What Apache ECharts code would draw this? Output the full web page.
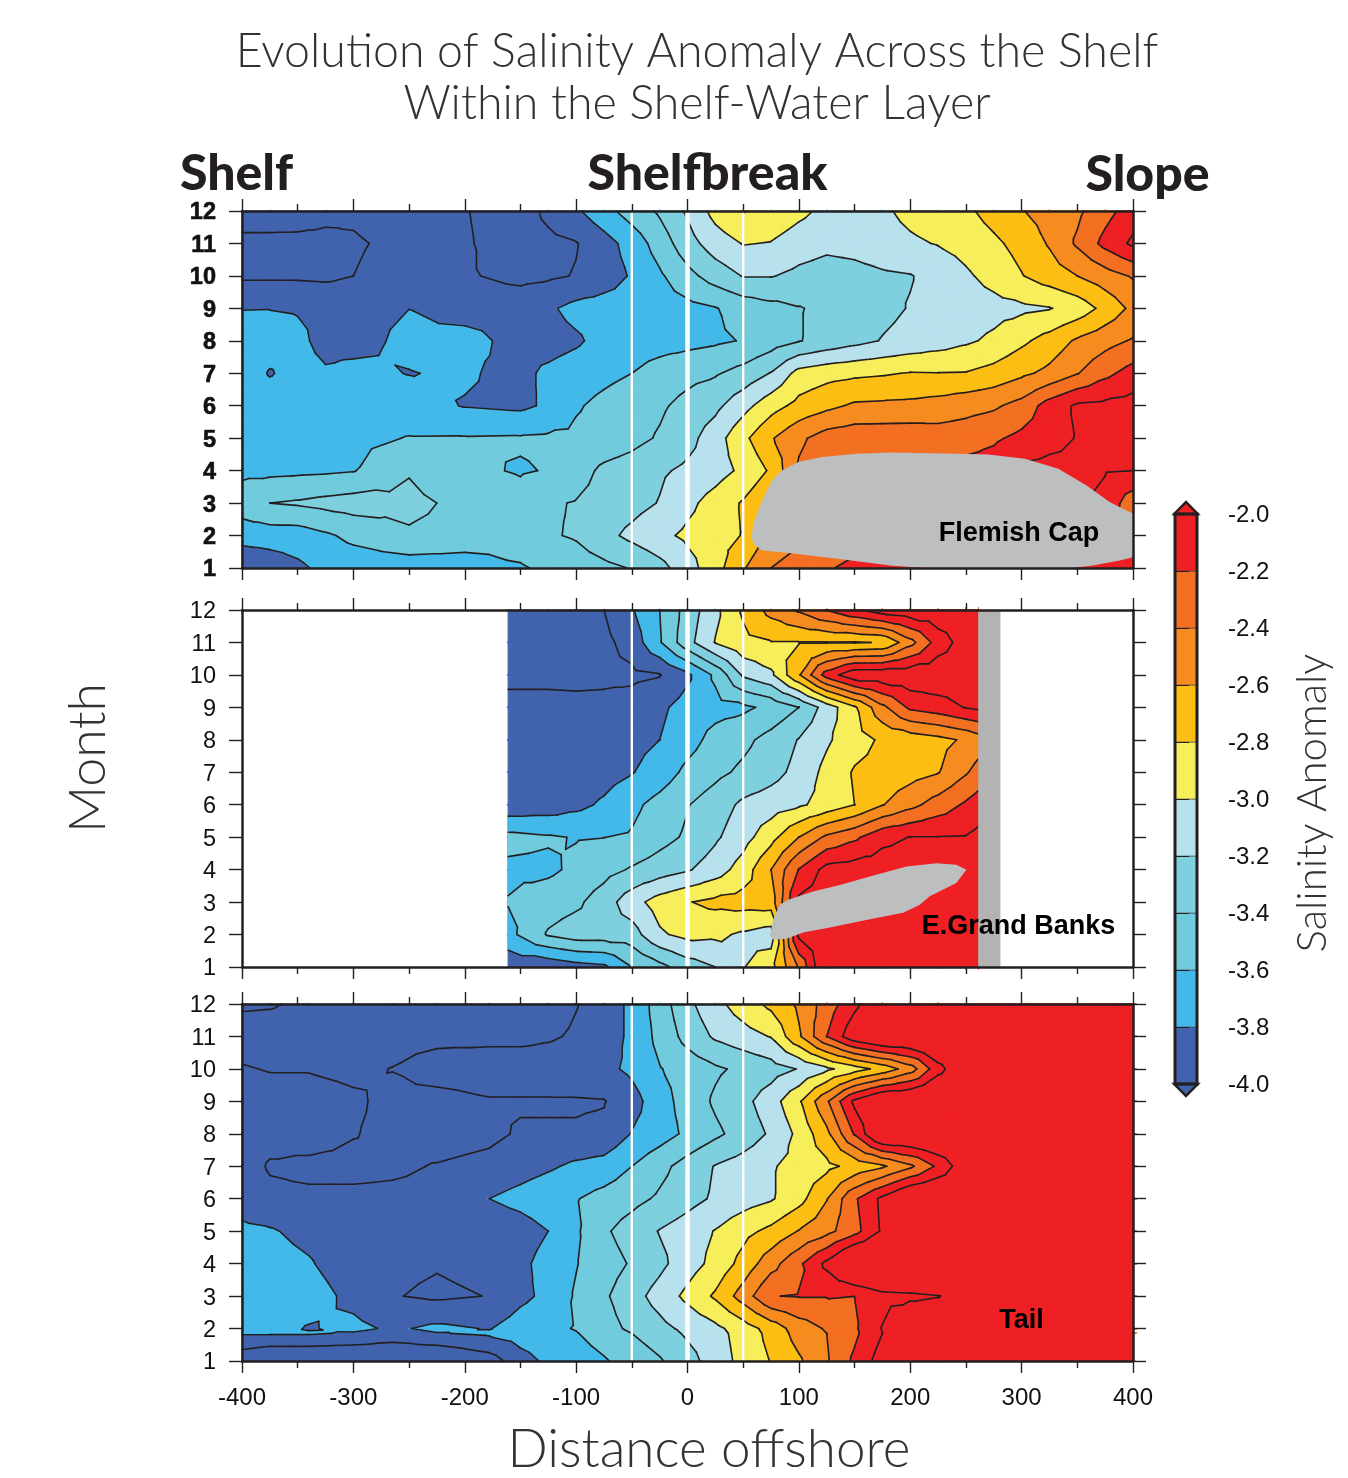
<!DOCTYPE html>
<html>
<head>
<meta charset="utf-8">
<style>html,body{margin:0;padding:0;background:#fff}#c{width:1348px;height:1478px}</style>
<script src="https://cdn.jsdelivr.net/npm/echarts@6/dist/echarts.min.js"></script>
</head>
<body>
<div id="c"></div>
<script>
// ---- contour levels and colours ----
const contourLevels = [-4.0,-3.8,-3.6,-3.4,-3.2,-3.0,-2.8,-2.6,-2.4,-2.2,-2.0];
const bandFloors    = [-99,-3.8,-3.6,-3.4,-3.2,-3.0,-2.8,-2.6,-2.4,-2.2];
const bandColors = ['#4163ae','#43b9ea','#70cbdc','#7fd0df','#b7e1ed','#f6ee5a','#fdbe14','#f68b1f','#f36f21','#ee2024'];
const monthTicks = [1,2,3,4,5,6,7,8,9,10,11,12];
const referenceLines = [-50,0,50];

// ---- panel 1: Flemish Cap ----
const p1Distance = [-400,-375,-350,-325,-300,-250,-200,-150,-125,-100,-75,-50,-25,0,25,50,75,100,125,150,175,200,225,250,275,300,325,350,375,400];
const p1Months = [1,2,3,4,5,6,7,8,9,10,11,12];
const p1M1  = [-3.98,-3.93,-3.84,-3.75,-3.72,-3.72,-3.72,-3.62,-3.56,-3.5,-3.45,-3.39,-3.27,-3.08,-2.88,-2.62,-2.4,-2.3,-2.22,-2.15,-2.1,-2.07,-2.05,-2.05,-2.05,-2.05,-2.1,-2.15,-2.15,-2.15];
const p1M2  = [-3.72,-3.7,-3.7,-3.63,-3.55,-3.424,-3.47,-3.5,-3.42,-3.38,-3.26,-3.15,-3.05,-2.96,-2.88,-2.79,-2.55,-2.45,-2.35,-2.3,-2.25,-2.2,-2.15,-2.1,-2.1,-2.1,-2.1,-2.15,-2.2,-2.3];
const p1M3  = [-3.49,-3.4,-3.376,-3.34,-3.31,-3.35,-3.45,-3.53,-3.42,-3.39,-3.33,-3.27,-3.19,-3.05,-2.92,-2.78,-2.6,-2.45,-2.3,-2.2,-2.15,-2.1,-2.1,-2.05,-2.0,-1.95,-1.93,-1.95,-2.05,-2.33];
const p1M4  = [-3.65,-3.65,-3.64,-3.63,-3.61,-3.415,-3.56,-3.616,-3.59,-3.48,-3.36,-3.31,-3.23,-3.16,-3.08,-2.96,-2.77,-2.37,-2.25,-2.22,-2.18,-2.15,-2.12,-2.12,-2.1,-1.96,-1.93,-1.95,-1.99,-2.0];
const p1M5  = [-3.7,-3.7,-3.69,-3.68,-3.66,-3.59,-3.587,-3.58,-3.57,-3.56,-3.52,-3.46,-3.38,-3.27,-3.09,-2.85,-2.62,-2.44,-2.31,-2.27,-2.27,-2.27,-2.3,-2.29,-2.23,-2.15,-2.07,-1.99,-1.95,-1.93];
const p1M6  = [-3.7,-3.72,-3.72,-3.72,-3.72,-3.72,-3.81,-3.84,-3.77,-3.62,-3.55,-3.49,-3.43,-3.34,-3.25,-3.07,-2.88,-2.74,-2.65,-2.57,-2.56,-2.55,-2.52,-2.47,-2.43,-2.33,-2.11,-1.97,-1.95,-1.92];
const p1M7  = [-3.72,-3.81,-3.75,-3.785,-3.76,-3.805,-3.78,-3.85,-3.76,-3.7,-3.65,-3.6,-3.52,-3.46,-3.42,-3.33,-3.19,-2.93,-2.87,-2.84,-2.82,-2.79,-2.795,-2.79,-2.73,-2.64,-2.55,-2.41,-2.25,-2.12];
const p1M8  = [-3.7,-3.74,-3.77,-3.84,-3.85,-3.765,-3.73,-3.87,-3.88,-3.83,-3.73,-3.7,-3.68,-3.66,-3.63,-3.59,-3.5,-3.41,-3.33,-3.26,-3.19,-3.14,-3.09,-3.03,-2.96,-2.84,-2.72,-2.57,-2.47,-2.38];
const p1M9  = [-3.805,-3.803,-3.81,-3.83,-3.85,-3.801,-3.88,-3.89,-3.83,-3.74,-3.71,-3.7,-3.69,-3.66,-3.61,-3.52,-3.46,-3.41,-3.36,-3.31,-3.25,-3.19,-3.15,-3.11,-3.07,-3.04,-3.01,-2.92,-2.74,-2.55];
const p1M10 = [-4.03,-4.03,-4.03,-4.04,-4.0,-3.92,-3.98,-4.05,-4.03,-3.99,-3.9,-3.78,-3.63,-3.46,-3.31,-3.19,-3.19,-3.25,-3.29,-3.27,-3.23,-3.21,-3.13,-3.03,-2.93,-2.81,-2.7,-2.6,-2.49,-2.38];
const p1M11 = [-4.05,-4.05,-4.05,-4.05,-4.02,-3.95,-3.98,-4.1,-4.05,-4.01,-3.88,-3.72,-3.51,-3.28,-3.1,-2.99,-3.01,-3.1,-3.15,-3.13,-3.08,-3.03,-2.99,-2.93,-2.84,-2.73,-2.58,-2.37,-2.14,-1.96];
const p1M12 = [-3.9,-3.9,-3.91,-3.95,-3.97,-3.9,-3.99,-4.1,-3.95,-3.83,-3.67,-3.51,-3.37,-3.17,-2.93,-2.79,-2.85,-2.95,-3.05,-3.1,-3.03,-2.95,-2.9,-2.84,-2.72,-2.61,-2.52,-2.44,-2.27,-2.1];

// ---- panel 2: E. Grand Banks ----
const p2Distance = [-161,-125,-100,-75,-50,-25,0,25,50,75,100,125,150,175,200,225,250,261];
const p2Months = [1,2,3,4,5,6,7,8,9,10,11,12];
const p2M1  = [-3.95,-3.95,-3.88,-3.84,-3.6,-3.46,-3.3,-3.2,-3.01,-2.87,-2.37,-1.75,-1.8,-1.8,-1.8,-1.8,-1.8,-1.8];
const p2M2  = [-3.66,-3.38,-3.3,-3.3,-3.29,-3.03,-2.94,-2.96,-3.03,-3.1,-1.95,-1.9,-1.9,-1.9,-1.9,-1.9,-1.9,-1.9];
const p2M3  = [-3.59,-3.49,-3.44,-3.3,-3.08,-2.91,-2.81,-2.75,-2.72,-2.7,-1.95,-1.9,-1.9,-1.9,-1.9,-1.9,-1.9,-1.9];
const p2M4  = [-3.64,-3.64,-3.557,-3.47,-3.38,-3.3,-3.22,-3.1,-2.91,-2.6,-2.19,-1.93,-1.9,-1.9,-1.9,-1.9,-1.9,-1.9];
const p2M5  = [-3.54,-3.58,-3.61,-3.602,-3.58,-3.47,-3.37,-3.23,-3.08,-2.87,-2.6,-2.36,-2.24,-2.05,-1.995,-1.995,-1.99,-1.95];
const p2M6  = [-3.94,-3.91,-3.85,-3.77,-3.65,-3.53,-3.41,-3.3,-3.16,-3.1,-3.03,-2.93,-2.8,-2.61,-2.46,-2.31,-2.17,-2.1];
const p2M7  = [-3.94,-3.94,-3.93,-3.88,-3.81,-3.71,-3.55,-3.45,-3.36,-3.27,-3.14,-2.94,-2.78,-2.74,-2.68,-2.61,-2.42,-2.33];
const p2M8  = [-3.94,-3.95,-3.95,-3.93,-3.86,-3.8,-3.68,-3.53,-3.45,-3.33,-3.19,-3.03,-2.88,-2.77,-2.72,-2.66,-2.57,-2.5];
const p2M9  = [-3.95,-3.95,-3.96,-3.95,-3.92,-3.84,-3.72,-3.67,-3.64,-3.55,-3.4,-3.11,-2.83,-2.45,-2.16,-2.09,-1.99,-1.96];
const p2M10 = [-4.04,-4.04,-4.04,-4.04,-4.04,-4.01,-3.84,-3.56,-3.17,-3.04,-2.62,-2.11,-1.85,-1.85,-1.85,-1.85,-1.85,-1.85];
const p2M11 = [-4.1,-4.1,-4.1,-4.05,-3.92,-3.62,-3.27,-2.99,-2.85,-2.81,-2.81,-2.81,-2.815,-2.79,-2.47,-2.11,-1.9,-1.85];
const p2M12 = [-4.1,-4.1,-4.08,-4.0,-3.82,-3.6,-3.32,-3.05,-2.77,-2.53,-2.37,-2.19,-2.03,-1.9,-1.85,-1.85,-1.85,-1.85];

// ---- panel 3: Tail ----
const p3Distance = [-400,-375,-340,-300,-265,-225,-178,-150,-125,-100,-75,-50,-25,0,25,50,75,100,125,150,175,200,225,250,300,400];
const p3Months = [1,1.85,2,3,4,5,6,7,8,9,10,11,12];
const p3M1   = [-4.15,-4.25,-4.25,-4.25,-4.25,-4.25,-4.1,-3.88,-3.76,-3.7,-3.62,-3.52,-3.42,-3.28,-3.1,-2.94,-2.79,-2.63,-2.42,-2.16,-1.9,-1.8,-1.8,-1.8,-1.8,-1.8];
const p3M1b  = [-3.78,-3.78,-3.78,-3.82,-3.88,-3.81,-3.77,-3.71,-3.66,-3.61,-3.51,-3.4,-3.3,-3.17,-3.07,-2.92,-2.74,-2.52,-2.4,-2.24,-2.0,-1.75,-1.8,-1.8,-1.8,-1.8];
const p3M2   = [-3.7,-3.72,-3.815,-3.75,-3.83,-3.76,-3.81,-3.7,-3.64,-3.59,-3.48,-3.36,-3.26,-3.15,-3.05,-2.9,-2.72,-2.5,-2.38,-2.23,-1.99,-1.72,-1.8,-1.8,-1.8,-1.8];
const p3M3   = [-3.7,-3.7,-3.7,-3.86,-3.99,-4.03,-3.995,-3.85,-3.75,-3.577,-3.43,-3.28,-3.12,-2.95,-2.77,-2.51,-2.205,-2.19,-2.19,-2.199,-2.07,-2.05,-2.01,-1.9,-1.8,-1.8];
const p3M4   = [-3.72,-3.72,-3.78,-3.93,-3.96,-3.987,-3.95,-3.85,-3.72,-3.61,-3.49,-3.38,-3.25,-3.09,-2.94,-2.73,-2.48,-2.24,-1.95,-1.6,-1.55,-1.5,-1.5,-1.5,-1.5,-1.5];
const p3M5   = [-3.76,-3.78,-3.86,-3.95,-3.95,-3.95,-3.95,-3.9,-3.8,-3.63,-3.43,-3.31,-3.19,-3.1,-2.99,-2.86,-2.75,-2.59,-2.46,-2.27,-1.97,-1.7,-1.7,-1.7,-1.7,-1.7];
const p3M6   = [-3.88,-3.95,-3.96,-3.96,-3.96,-3.95,-3.8,-3.73,-3.66,-3.61,-3.53,-3.46,-3.37,-3.27,-3.17,-3.09,-3.02,-2.87,-2.61,-2.23,-1.95,-1.7,-1.7,-1.7,-1.7,-1.7];
const p3M7   = [-3.9,-4.02,-4.05,-4.05,-4.03,-3.99,-3.95,-3.89,-3.83,-3.76,-3.72,-3.6,-3.46,-3.32,-3.19,-3.11,-3.02,-2.93,-2.85,-2.74,-2.63,-2.44,-2.16,-1.85,-1.7,-1.7];
const p3M8   = [-3.9,-3.93,-3.9,-3.99,-4.05,-4.08,-4.04,-3.98,-3.98,-3.98,-3.96,-3.79,-3.69,-3.56,-3.44,-3.32,-3.17,-2.95,-2.65,-2.18,-1.7,-1.7,-1.7,-1.7,-1.7,-1.7];
const p3M9   = [-3.9,-3.92,-3.93,-3.97,-4.05,-4.08,-4.02,-4.02,-4.02,-4.02,-4.01,-3.88,-3.68,-3.52,-3.37,-3.26,-3.09,-2.83,-2.43,-1.95,-1.7,-1.7,-1.7,-1.7,-1.7,-1.7];
const p3M10  = [-3.985,-4.01,-4.01,-4.04,-3.995,-3.9,-3.87,-3.87,-3.87,-3.85,-3.85,-3.76,-3.61,-3.52,-3.43,-3.36,-3.29,-3.19,-3.04,-2.89,-2.73,-2.5,-2.07,-1.8,-1.7,-1.7];
const p3M11  = [-4.1,-4.1,-4.1,-4.1,-4.08,-4.06,-4.06,-4.06,-4.03,-3.97,-3.9,-3.76,-3.54,-3.33,-3.17,-3.08,-2.99,-2.63,-2.2,-1.85,-1.7,-1.7,-1.7,-1.7,-1.7,-1.7];
const p3M12  = [-3.97,-3.98,-4.05,-4.1,-4.1,-4.1,-4.1,-4.1,-4.1,-4.01,-3.9,-3.76,-3.5,-3.25,-3.06,-2.9,-2.75,-2.56,-2.31,-2.05,-1.8,-1.7,-1.7,-1.7,-1.7,-1.7];

// ---- masked land areas (distance, month) ----
const flemishCap = [[57.6,1.95],[59,2.36],[67,3.08],[76,3.7],[85,4.01],[100,4.27],[121,4.42],[152,4.52],[182,4.56],[242,4.52],[270,4.5],[303,4.37],[333,4.06],[358,3.55],[379,3.03],[400,2.67],[400,1.33],[388,1.23],[364,1.08],[345,1],[212,1],[182,1.08],[133,1.29],[91,1.46],[67,1.54],[59,1.75]];
const grandBanks = [[73.9,1.95],[76.9,2.46],[82.9,2.92],[90.4,3.07],[112.8,3.33],[136.7,3.53],[163.7,3.79],[196.6,4.1],[223.5,4.2],[241.4,4.15],[250.4,4.0],[241.4,3.59],[217.5,3.18],[208.6,2.92],[193.6,2.67],[163.7,2.47],[127.8,2.22],[103.8,2.06],[88.9,1.87],[76.9,1.85]];
const grandBanksBar = [[261,1],[281,1],[281,12],[261,12]];

const colorbarTicks = [-4.0,-3.8,-3.6,-3.4,-3.2,-3.0,-2.8,-2.6,-2.4,-2.2,-2.0];

const panels = [
  {top:211, xs:p1Distance, ms:p1Months, rows:[p1M1,p1M2,p1M3,p1M4,p1M5,p1M6,p1M7,p1M8,p1M9,p1M10,p1M11,p1M12], masks:[{pts:flemishCap,c:'#bcbec0'}]},
  {top:610, xs:p2Distance, ms:p2Months, rows:[p2M1,p2M2,p2M3,p2M4,p2M5,p2M6,p2M7,p2M8,p2M9,p2M10,p2M11,p2M12], masks:[{pts:grandBanks,c:'#bcbec0'},{pts:grandBanksBar,c:'#b3b3b3'}]},
  {top:1004,xs:p3Distance, ms:p3Months, rows:[p3M1,p3M1b,p3M2,p3M3,p3M4,p3M5,p3M6,p3M7,p3M8,p3M9,p3M10,p3M11,p3M12], masks:[]}
];

const INK = '#231f20', EPS = 1e-6;
const FONT = '"Liberation Sans", Arial, sans-serif';

function trianglesOf(p){
  const out=[];
  for(let j=0;j<p.ms.length-1;j++) for(let i=0;i<p.xs.length-1;i++){
    const x0=p.xs[i],x1=p.xs[i+1],y0=p.ms[j],y1=p.ms[j+1];
    const a=[x0,y0,p.rows[j][i]],b=[x1,y0,p.rows[j][i+1]],c=[x0,y1,p.rows[j+1][i]],d=[x1,y1,p.rows[j+1][i+1]];
    const m=[(x0+x1)/2,(y0+y1)/2,(a[2]+b[2]+c[2]+d[2])/4];
    out.push([a,b,m],[b,d,m],[d,c,m],[c,a,m]);
  }
  return out;
}
function clipAbove(tri,L){
  const out=[];
  for(let i=0;i<3;i++){
    const p=tri[i],q=tri[(i+1)%3],pi=p[2]>=L,qi=q[2]>=L;
    if(pi) out.push(p);
    if(pi!==qi){const t=(L-p[2])/(q[2]-p[2]);out.push([p[0]+t*(q[0]-p[0]),p[1]+t*(q[1]-p[1])]);}
  }
  return out;
}
function fillLayer(tris){
  return (params,api)=>{
    const L=api.value(0)+EPS,c=bandColors[params.dataIndex],children=[];
    tris.forEach(t=>{
      if(Math.max(t[0][2],t[1][2],t[2][2])<L) return;
      const pts=clipAbove(t,L);
      children.push({type:'polygon',shape:{points:pts.map(v=>api.coord([v[0],v[1]]))},style:{fill:c,stroke:c,lineWidth:1.2}});
    });
    return {type:'group',children};
  };
}
function lineLayer(tris){
  return (params,api)=>{
    const L=api.value(0)+EPS,children=[];
    tris.forEach(t=>{
      const seg=[];
      for(let i=0;i<3;i++){
        const p=t[i],q=t[(i+1)%3];
        if((p[2]>=L)!==(q[2]>=L)){const f=(L-p[2])/(q[2]-p[2]);seg.push(api.coord([p[0]+f*(q[0]-p[0]),p[1]+f*(q[1]-p[1])]));}
      }
      if(seg.length===2) children.push({type:'line',shape:{x1:seg[0][0],y1:seg[0][1],x2:seg[1][0],y2:seg[1][1]},style:{stroke:INK,lineWidth:1.6,lineCap:'round'}});
    });
    return {type:'group',children};
  };
}

const grid=[],xAxis=[],yAxis=[],series=[];
const axisLine={show:true,onZero:false,lineStyle:{color:INK,width:2.5}};
panels.forEach((p,k)=>{
  grid.push({left:242,width:891,top:p.top,height:357});
  ['bottom','top'].forEach((pos)=>{
    xAxis.push({type:'value',gridIndex:k,position:pos,min:-400,max:400,interval:100,z:6,silent:true,
      axisLine,axisTick:{show:true,length:12,lineStyle:{color:INK,width:1.4}},
      minorTick:{show:true,splitNumber:2,length:7,lineStyle:{color:INK,width:1.4}},
      splitLine:{show:false},minorSplitLine:{show:false},
      axisLabel:{show:k===2&&pos==='bottom',margin:25,fontFamily:FONT,fontSize:24,color:'#111',hideOverlap:false}});
  });
  ['left','right'].forEach((pos)=>{
    yAxis.push({type:'value',gridIndex:k,position:pos,min:1,max:12,interval:1,z:6,silent:true,
      axisLine,axisTick:{show:true,length:13,lineStyle:{color:INK,width:1.4}},splitLine:{show:false},
      axisLabel:{show:pos==='left',margin:26,fontFamily:FONT,fontSize:23.5,color:'#111',fontWeight:k===0?'bold':'normal',
        textBorderColor:k===0?'#111':'transparent',textBorderWidth:k===0?0.6:0,verticalAlign:'top',lineHeight:4,
        customValues:monthTicks,hideOverlap:false}});
  });
  const ax={xAxisIndex:2*k,yAxisIndex:2*k};
  const tris=trianglesOf(p);
  series.push({type:'custom',...ax,z:2,silent:true,animation:false,progressive:0,renderItem:fillLayer(tris),data:bandFloors.map(v=>[v])});
  series.push({type:'custom',...ax,z:3,silent:true,animation:false,progressive:0,renderItem:lineLayer(tris),data:contourLevels.map(v=>[v])});
  p.masks.forEach(m=>{
    series.push({type:'custom',...ax,z:4,silent:true,animation:false,
      renderItem:(params,api)=>params.dataIndex===0?{type:'polygon',shape:{points:m.pts.map(v=>api.coord(v))},style:{fill:m.c}}:null,
      encode:{x:0,y:1},data:m.pts});
  });
  referenceLines.forEach(x=>{
    series.push({type:'line',...ax,z:5,silent:true,animation:false,symbol:'none',
      lineStyle:{color:'#fff',width:x===0?4.5:2.4},data:[[x,1],[x,12]]});
  });
});

// colour bar
grid.push({left:1175,width:22,top:514,height:570});
xAxis.push({type:'value',gridIndex:3,min:0,max:1,show:false});
yAxis.push({type:'value',gridIndex:3,position:'right',min:-4,max:-2,interval:0.2,z:6,silent:true,
  axisLine:{show:false},axisTick:{show:true,length:14,lineStyle:{color:INK,width:1}},splitLine:{show:false},
  axisLabel:{margin:31,fontFamily:FONT,fontSize:24,color:'#111',verticalAlign:'top',lineHeight:3,formatter:v=>v.toFixed(1)}});
const barData=bandColors.map((c,i)=>[colorbarTicks[i],colorbarTicks[i+1]]);
series.push({type:'custom',xAxisIndex:6,yAxisIndex:6,z:2,silent:true,animation:false,clip:false,
  encode:{y:[0,1]},data:barData,
  renderItem:(params,api)=>{
    const a=api.coord([0,api.value(1)]),b=api.coord([1,api.value(0)]);
    return {type:'rect',shape:{x:a[0],y:a[1],width:b[0]-a[0],height:b[1]-a[1]},style:{fill:bandColors[params.dataIndex],stroke:'#444',lineWidth:0.6}};
  }});
const barEnds=[[-4.0,-4.042,bandColors[0]],[-2.0,-1.958,bandColors[9]]];
series.push({type:'custom',xAxisIndex:6,yAxisIndex:6,z:3,silent:true,animation:false,clip:false,
  encode:{y:[0]},data:barEnds.map(e=>[e[0],e[1]]),
  renderItem:(params,api)=>{
    const y0=api.value(0),y1=api.value(1);
    return {type:'polygon',shape:{points:[api.coord([-0.04,y0]),api.coord([1.04,y0]),api.coord([0.5,y1])]},
      style:{fill:barEnds[params.dataIndex][2],stroke:INK,lineWidth:2.4,lineJoin:'miter'}};
  }});
series.push({type:'custom',xAxisIndex:6,yAxisIndex:6,z:4,silent:true,animation:false,clip:false,
  encode:{y:[0,1]},data:[[-4,-2]],
  renderItem:(params,api)=>{
    const a=api.coord([0,api.value(1)]),b=api.coord([1,api.value(0)]);
    return {type:'rect',shape:{x:a[0],y:a[1],width:b[0]-a[0],height:b[1]-a[1]},style:{fill:'none',stroke:INK,lineWidth:3}};
  }});

function label(text,x,y,font,fill,rotation){
  return {type:'text',x,y,rotation:rotation||0,z:20,silent:true,
    style:{text,font,fill:fill||'#231f20',textAlign:'center',textVerticalAlign:'middle'}};
}
const HEAD='900 50px Lato, "Open Sans", sans-serif';
const LAB='bold 27px '+FONT;
const GRAY='#333';

const option={
  backgroundColor:'#fff',animation:false,
  title:{text:'Evolution of Salinity Anomaly Across the Shelf\nWithin the Shelf-Water Layer',left:692,top:21,textAlign:'center',
    textStyle:{fontFamily:'Lato',fontWeight:300,fontSize:46.5,lineHeight:52,color:GRAY}},
  grid,xAxis,yAxis,series,
  graphic:{elements:[
    label('Shelf',236.5,174,HEAD),
    label('Shelfbreak',707.5,174,HEAD),
    label('Slope',1147.5,175,HEAD),
    label('Month',88,758,'300 52px Lato, sans-serif',GRAY,Math.PI/2),
    label('Distance offshore',709,1450,'300 53px Lato, sans-serif',GRAY),
    label('Salinity Anomaly',1312,803,'300 42px Lato, sans-serif',GRAY,Math.PI/2),
    label('Flemish Cap',1019,534,LAB,'#000'),
    label('E.Grand Banks',1018.5,927,LAB,'#000'),
    label('Tail',1021.5,1321,LAB,'#000')
  ]}
};
const chart=echarts.init(document.getElementById('c'),null,{renderer:'canvas',width:1348,height:1478});
chart.setOption(option);
</script>
</body>
</html>
